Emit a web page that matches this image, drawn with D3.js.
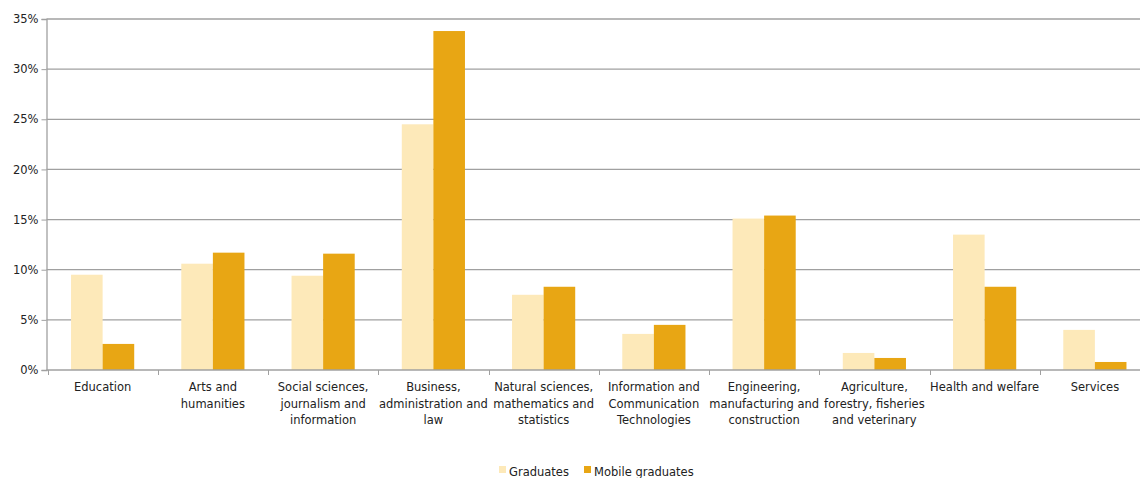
<!DOCTYPE html>
<html>
<head>
<meta charset="utf-8">
<script src="https://cdn.jsdelivr.net/npm/d3@7"></script>
<style>
body{margin:0;background:#fff}
svg{display:block;font-family:"DejaVu Sans",Verdana,sans-serif}
</style>
</head>
<body>
<script>
var categories = [
	["Education"],
	["Arts and", "humanities"],
	["Social sciences,", "journalism and", "information"],
	["Business,", "administration and", "law"],
	["Natural sciences,", "mathematics and", "statistics"],
	["Information and", "Communication", "Technologies"],
	["Engineering,", "manufacturing and", "construction"],
	["Agriculture,", "forestry, fisheries", "and veterinary"],
	["Health and welfare"],
	["Services"]
]
var graduates = [9.5, 10.6, 9.4, 24.5, 7.5, 3.6, 15.1, 1.7, 13.5, 4.0]
var mobile = [2.6, 11.7, 11.6, 33.8, 8.3, 4.5, 15.4, 1.2, 8.3, 0.8]
var seriesNames = ["Graduates", "Mobile graduates"]
var yTicks = [0, 5, 10, 15, 20, 25, 30, 35]

var WIDTH = 1140, HEIGHT = 478
var colors = ["#fde9b9", "#e8a614"]

var svg = d3.select('body').append('svg')
	.attr('width', WIDTH)
	.attr('height', HEIGHT)

var x = d3.scaleBand()
	.domain(d3.range(categories.length))
	.range([47.5, 1150])
	.paddingInner(0)
	.paddingOuter(0)

var inner = d3.scaleBand()
	.domain([0, 1])
	.range([0, x.bandwidth()])
	.paddingInner(0)
	.paddingOuter(0.745)

var y = d3.scaleLinear().domain([0, 35]).range([370, 19])

// gridlines
svg.append('g').selectAll('line').data(yTicks.slice(1))
	.enter().append('line')
	.attr('x1', 46.5).attr('x2', WIDTH)
	.attr('y1', function(d){ return y(d) }).attr('y2', function(d){ return y(d) })
	.attr('stroke', '#a0a0a0').attr('stroke-width', 1.3)

// bars
var groups = svg.append('g').selectAll('g').data(categories)
	.enter().append('g')
	.attr('transform', function(d, i){ return 'translate(' + x(i) + ',0)' })

groups.selectAll('rect').data(function(d, i){ return [graduates[i], mobile[i]] })
	.enter().append('rect')
	.attr('x', function(d, j){ return inner(j) })
	.attr('width', inner.bandwidth())
	.attr('y', function(d){ return y(d) })
	.attr('height', function(d){ return y(0) - y(d) })
	.attr('fill', function(d, j){ return colors[j] })

// y axis
var yAxis = d3.axisLeft(y).tickValues(yTicks).tickSize(5).tickPadding(3)
	.tickFormat(function(d){ return d + '%' })
var yg = svg.append('g').attr('transform', 'translate(46.5,0)').call(yAxis)
yg.select('.domain').attr('stroke', '#a0a0a0').attr('stroke-width', 1.3)
yg.selectAll('.tick line').attr('stroke', '#a0a0a0')
yg.selectAll('.tick text').attr('font-size', 11.5).attr('fill', '#222')
	.attr('font-family', '"DejaVu Sans",Verdana,sans-serif')

// x axis baseline with boundary ticks
svg.append('line')
	.attr('x1', 46.5).attr('x2', WIDTH)
	.attr('y1', y(0)).attr('y2', y(0))
	.attr('stroke', '#a0a0a0').attr('stroke-width', 1.3)
svg.append('g').selectAll('line').data(d3.range(categories.length))
	.enter().append('line')
	.attr('x1', function(i){ return Math.round(x(i)) + 0.5 })
	.attr('x2', function(i){ return Math.round(x(i)) + 0.5 })
	.attr('y1', y(0)).attr('y2', y(0) + 5)
	.attr('stroke', '#a0a0a0')

// category labels
var labels = svg.append('g').selectAll('text').data(categories)
	.enter().append('text')
	.attr('text-anchor', 'middle')
	.attr('font-size', 11.5)
	.attr('fill', '#222')
	.attr('transform', function(d, i){ return 'translate(' + (x(i) + x.bandwidth() / 2) + ',391)' })
labels.selectAll('tspan').data(function(d){ return d })
	.enter().append('tspan')
	.attr('x', 0)
	.attr('y', function(d, k){ return k * 16.5 })
	.text(function(d){ return d })

// legend
var legend = svg.append('g').attr('transform', 'translate(499,466)')
var legX = [0, 85]
seriesNames.forEach(function(name, j){
	legend.append('rect')
		.attr('x', legX[j]).attr('y', 0)
		.attr('width', 7).attr('height', 7)
		.attr('fill', colors[j])
	legend.append('text')
		.attr('x', legX[j] + 10).attr('y', 10)
		.attr('font-size', 11.5).attr('fill', '#222')
		.text(name)
})
</script>
</body>
</html>
